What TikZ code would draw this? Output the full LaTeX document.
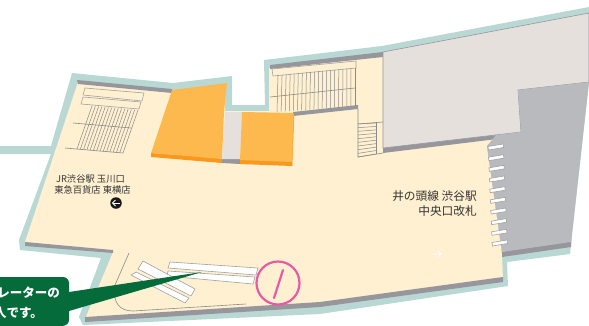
\documentclass[tikz,border=0pt]{standalone}
\usepackage{fontspec}
\newfontfamily\cjk{Noto Sans CJK JP}
\definecolor{cream}{HTML}{FEF0D0}
\definecolor{wallteal}{HTML}{B9D8D4}
\definecolor{wallgray}{HTML}{96969C}
\definecolor{orangeA}{HTML}{FDB94D}
\definecolor{orangeB}{HTML}{F8981D}
\definecolor{beige}{HTML}{E5E0DC}
\definecolor{slab}{HTML}{B9BABE}
\definecolor{callout}{HTML}{056B3A}
\definecolor{pinkring}{HTML}{E85AA5}
\definecolor{linegray}{HTML}{8A8A8A}
\tikzset{
  x=1pt,y=-1pt,
  wire/.style={draw=linegray,line width=0.6pt},
  tread/.style={draw=linegray,line width=0.5pt},
  bar/.style={draw=linegray!80,line width=0.6pt,fill=white},
  lbl/.style={font=\cjk,text=black!80,inner sep=0pt,align=center},
}
\begin{document}
\begin{tikzpicture}
\useasboundingbox (0,0) rectangle (589,325);
\fill[white] (0,0) rectangle (589,325);
% outer wall
\fill[wallteal] (72,73)--(173,83)--(232,76)--(232,105)--(265,105)--(264,60)--(382,46)--(589,7)--(589,82)--(571,245)--(570,254)--(507,262)--(508,286)--(320,314)--(83,325)--(79,317)--(101,258)--(20,250)--(19,240)--(51,154)--(0,154)--(0,146)--(51,146)--cycle;
% floor
\fill[cream] (78,82)--(172,91)--(225,90)--(225,111)--(269,111)--(269,68)--(383,54)--(383,150)--(496,136)--(487,147)--(502,255)--(503,279)--(320,304)--(85,319)--(113,252)--(25,242)--cycle;
% dark wall strips
\fill[wallgray] (77,80)--(172,89)--(172,93)--(78,84)--cycle;
\fill[wallgray] (25,242)--(113,250)--(113,253)--(25,246)--cycle;
\fill[wallgray] (85,317)--(320,302)--(503,277)--(503,282)--(320,307)--(85,322)--cycle;
\fill[wallgray] (270,65)--(383,52)--(383,57)--(270,69)--cycle;
\fill[wallgray] (293,112)--(358,105)--(358,109)--(293,116)--cycle;
\fill[wallgray] (383,148)--(497,135)--(497,139)--(383,153)--cycle;
% grey-beige block
\filldraw[fill=beige,draw=wallgray,line width=0.6pt] (383,52)--(589,13)--(589,82)--(518,90)--(521,132)--(383,148)--cycle;
% track slab
\fill[wallgray] (502,252)--(571,237)--(571,247)--(502,257)--cycle;
\fill[slab] (589,82)--(518,90)--(521,132)--(496,135)--(487,146)--(502,252)--(571,242)--cycle;
% orange rooms
\fill[orangeB] (151,153)--(222,158)--(222,163)--(151,157)--cycle;
\fill[orangeA] (172,90)--(227,83)--(224,112)--(222,159)--(151,153)--cycle;
\fill[wallgray] (222,158)--(240,159)--(240,164)--(222,163)--cycle;
\fill[beige] (225,112)--(242,112)--(240,159)--(222,159)--cycle;
\fill[orangeB] (240,159)--(292,161)--(292,166)--(240,164)--cycle;
\fill[orangeA] (242,112)--(294,113)--(292,162)--(240,160)--cycle;
\draw[orangeB,line width=0.5pt] (294,113)--(292,166);
% left stairs
\draw[bar,fill=cream] (85,88)--(144,93)--(142,101)--(83,95)--cycle;
\draw[bar,fill=cream] (83,97)--(141,102)--(139,109)--(81,104)--cycle;
\foreach \i in {0,...,14}{
  \pgfmathsetmacro{\t}{\i/14}
  \draw[tread] ({92+46*\t},{106+4*\t})--({77+46*\t},{149+4*\t});
}
\draw[wire] (73,123)--(131,128);
\draw[wire] (65,148)--(123,153);
% upper stairs
\draw[bar,fill=cream] (272,69)--(356,61)--(356,68)--(273,76)--cycle;
\foreach \i in {0,...,19}{
  \pgfmathsetmacro{\t}{\i/19}
  \draw[tread] ({278+77*\t},{75-7*\t})--({277+78*\t},{112-6*\t});
}
\draw[wire] (270,97)--(355,88);
% column and small stair
\draw[wire] (358,109)--(358,157)--(383,153);
\draw[wire] (358,124)--(383,122);
\draw[wire] (376,123)--(376,154);
\foreach \i in {0,...,9}{
  \pgfmathsetmacro{\t}{\i/9}
  \draw[tread] (358,{124+33*\t})--(376,{123+31*\t});
}
% pegs
\foreach \i in {0,...,9}{
  \pgfmathsetmacro{\t}{\i/9}
  \pgfmathsetmacro{\xa}{488+4*\t}
  \pgfmathsetmacro{\ya}{146.5+96*\t}
  \draw[bar] (\xa,\ya)--({\xa+15},{\ya-2.5})--({\xa+15.5},{\ya+1})--({\xa+0.5},{\ya+3.5})--cycle;
}
% escalators
\draw[bar] (170,262)--(258,268)--(256,275)--(168,268)--cycle;
\draw[bar] (168,271)--(255,277)--(253,284)--(167,276)--cycle;
\draw[bar] (143,261)--(195,289)--(191,296)--(138,269)--cycle;
\draw[bar] (136,272)--(189,298)--(185,303)--(131,275)--cycle;
\draw[wire] (129,253)--(115,285) .. controls (112,303) and (120,311) .. (133,311)--(246,304);
% ring
\draw[pinkring,line width=2.2pt] (278,283) circle (21.5);
\draw[pinkring,line width=2.2pt,line cap=round] (283,270)--(274,298);
% arrows
\node[circle,fill=black!90,minimum size=11.5pt,inner sep=0pt] (goL) at (116,203) {};
\draw[white,line width=1pt] (120,203)--(112.5,203);
\draw[white,line width=1pt] (115.5,200)--(112.5,203)--(115.5,206);
\coordinate (wa) at (441,254);
\draw[white,line width=0.8pt] (432,254)--(wa) (437.5,250.5)--(wa)--(437.5,257.5);
% callout
\fill[callout] (-8,277) [rounded corners=6pt] --(69,277)--(69,325.8)--(-8,325.8) [sharp corners] --cycle;
\fill[callout] (69,292)--(202,272)--(69,311)--cycle;
% labels
\node[lbl,font=\cjk\fontsize{9.3}{10}\selectfont] (t1) at (90.5,179) {JR渋谷駅 玉川口};
\node[lbl,font=\cjk\fontsize{9.3}{10}\selectfont] (t2) at (92.5,190) {東急百貨店 東横店};
\node[lbl,anchor=east,font=\cjk\fontsize{11.7}{12}\selectfont] (t3) at (477,196) {井の頭線 渋谷駅};
\node[lbl,anchor=east,font=\cjk\fontsize{11.7}{12}\selectfont] (t4) at (477,211) {中央口改札};
\node[lbl,anchor=east,text=white,font=\cjk\bfseries\fontsize{12.5}{13}\selectfont] (t5) at (60,293) {レーターの};
\node[lbl,anchor=east,text=white,font=\cjk\bfseries\fontsize{12.5}{13}\selectfont] (t6) at (43,313) {人です。};
\end{tikzpicture}
\end{document}
